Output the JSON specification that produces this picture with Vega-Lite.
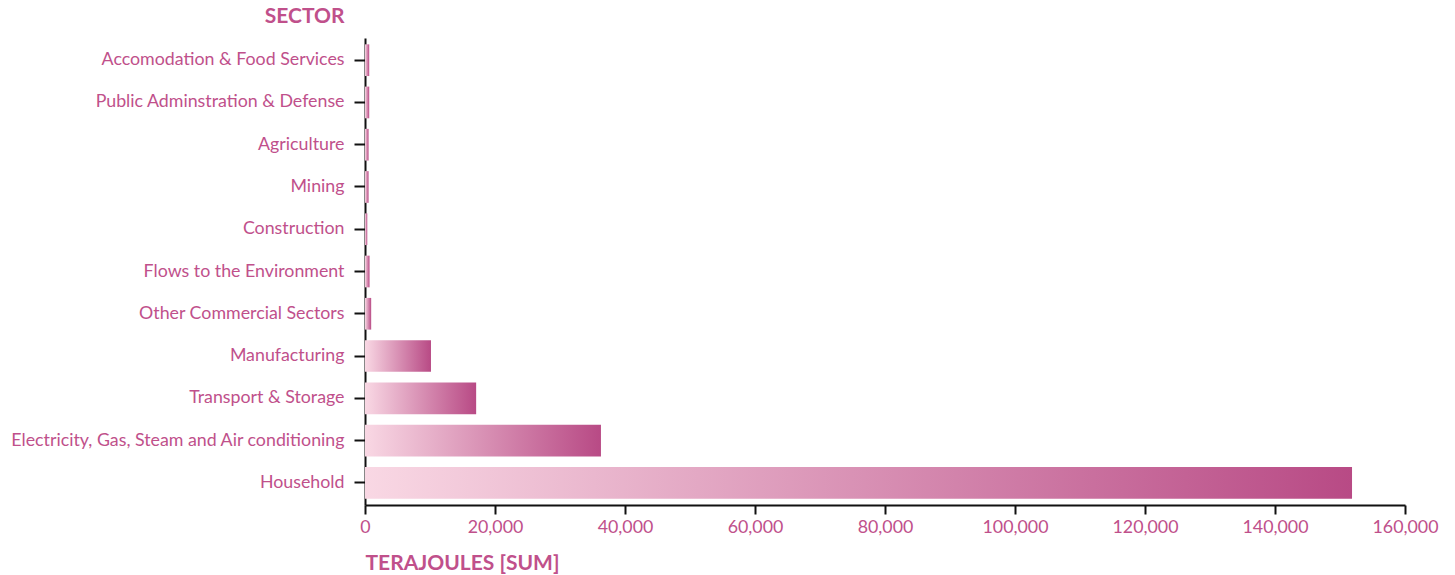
{
  "$schema": "https://vega.github.io/schema/vega-lite/v6.json",
  "autosize": "none",
  "padding": {"left": 365, "top": 38, "right": 50, "bottom": 70},
  "width": 1040,
  "height": 467,
  "data": {"values": [
    {"sector": "Accomodation & Food Services", "tj": 650},
    {"sector": "Public Adminstration & Defense", "tj": 650},
    {"sector": "Agriculture", "tj": 550},
    {"sector": "Mining", "tj": 550},
    {"sector": "Construction", "tj": 350},
    {"sector": "Flows to the Environment", "tj": 700},
    {"sector": "Other Commercial Sectors", "tj": 950},
    {"sector": "Manufacturing", "tj": 10150},
    {"sector": "Transport & Storage", "tj": 17100},
    {"sector": "Electricity, Gas, Steam and Air conditioning", "tj": 36300},
    {"sector": "Household", "tj": 151850}
  ]},
  "mark": {
    "type": "bar",
    "color": {
      "gradient": "linear",
      "x1": 0, "y1": 0, "x2": 1, "y2": 0,
      "stops": [
        {"offset": 0, "color": "#f9d8e4"},
        {"offset": 1, "color": "#b84a85"}
      ]
    }
  },
  "encoding": {
    "y": {
      "field": "sector",
      "type": "nominal",
      "sort": null,
      "title": "SECTOR",
      "scale": {"paddingInner": 0.25, "paddingOuter": 0.15},
      "axis": {
        "titleAngle": 0,
        "titleAlign": "right",
        "titleBaseline": "middle",
        "titleX": -21,
        "titleY": -22,
        "titleFontSize": 21,
        "titleFontWeight": "bold",
        "titleFont": "Lato",
        "titleColor": "#c0508b",
        "labelFont": "Lato",
        "labelFontSize": 17.8,
        "labelColor": "#c0508b",
        "labelPadding": 10,
        "tickSize": 11,
        "tickWidth": 2,
        "tickColor": "#111111",
        "domainWidth": 2,
        "domainColor": "#111111",
        "labelLimit": 400
      }
    },
    "x": {
      "field": "tj",
      "type": "quantitative",
      "title": "TERAJOULES [SUM]",
      "scale": {"domain": [0, 160000], "nice": false},
      "axis": {
        "grid": false,
        "values": [0, 20000, 40000, 60000, 80000, 100000, 120000, 140000, 160000],
        "format": ",d",
        "titleAlign": "left",
        "titleAnchor": "start",
        "titleX": 0,
        "titleY": 58,
        "titleBaseline": "middle",
        "titleFontSize": 21,
        "titleFontWeight": "bold",
        "titleFont": "Lato",
        "titleColor": "#c0508b",
        "labelFont": "Lato",
        "labelFontSize": 17.8,
        "labelColor": "#c0508b",
        "labelPadding": 4,
        "tickSize": 9,
        "tickWidth": 2,
        "tickColor": "#111111",
        "domainWidth": 2,
        "domainColor": "#111111",
        "labelFlush": false
      }
    }
  },
  "config": {"view": {"stroke": null}}
}
